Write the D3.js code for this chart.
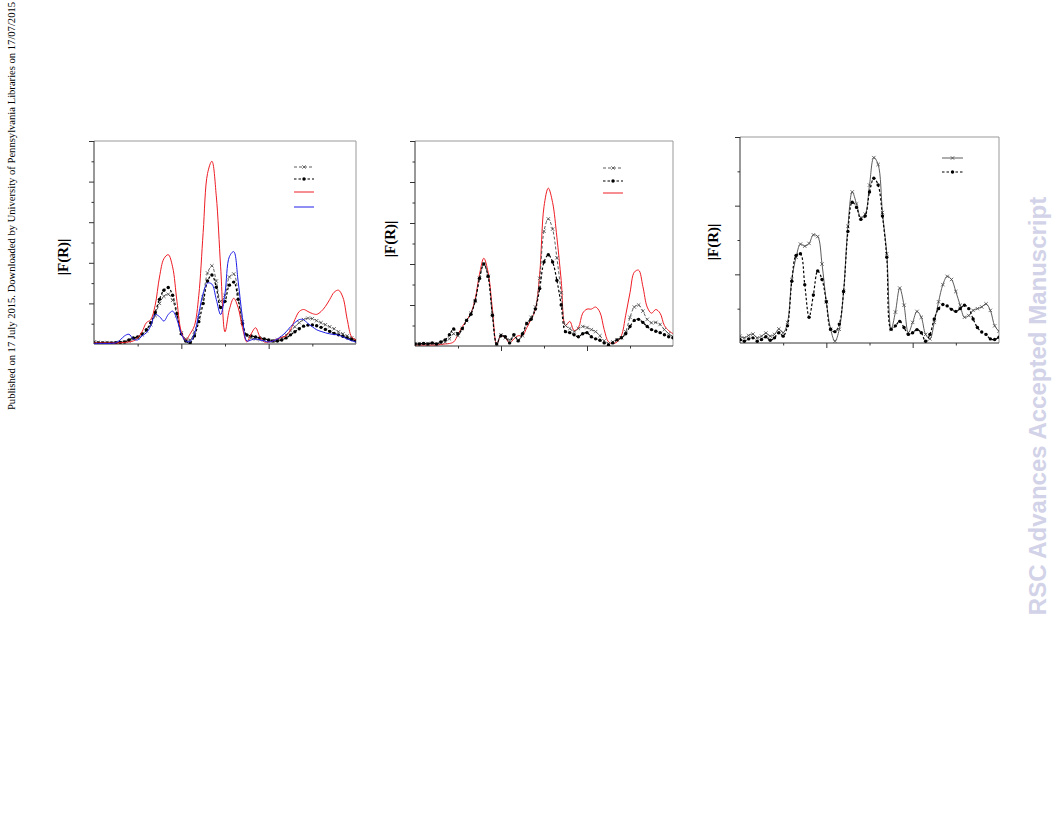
<!DOCTYPE html>
<html><head><meta charset="utf-8">
<script src="https://cdn.jsdelivr.net/npm/d3@7"></script>
<style>body{margin:0;background:#fff}svg{display:block}</style>
</head><body>
<svg id="c" width="1056" height="816"></svg>
<script>
// ---- DATA ----
const rGrid = [0,0.1,0.2,0.3,0.4,0.5,0.6,0.7,0.8,0.9,
  1,1.1,1.2,1.3,1.4,1.5,1.6,1.7,1.8,1.9,
  2,2.1,2.2,2.3,2.4,2.5,2.6,2.7,2.8,2.9,
  3,3.1,3.2,3.3,3.4,3.5,3.6,3.7,3.8,3.9,
  4,4.1,4.2,4.3,4.4,4.5,4.6,4.7,4.8,4.9,
  5,5.1,5.2,5.3,5.4,5.5,5.6,5.7,5.8,5.9,6];

const xTickMajor = [2,4];
const xTickMinor = [1,3,5];

// Panel 1
const p1Cross = [0.1,0.08,0.07,0.06,0.05,0.05,0.07,0.1,0.15,0.25,
  0.3,0.45,0.65,0.95,1.4,2.0,2.35,2.45,2.15,1.4,
  0.55,0.25,0.2,0.6,1.3,2.3,3.5,3.85,3.1,2.1,
  2.4,3.3,3.45,2.5,1.1,0.4,0.3,0.25,0.22,0.2,
  0.15,0.15,0.2,0.3,0.45,0.65,0.85,1.05,1.2,1.27,
  1.25,1.15,1.05,0.95,0.85,0.75,0.6,0.5,0.4,0.3,0.2];
const p1Dot = [0.05,0.05,0.05,0.05,0.05,0.06,0.08,0.1,0.2,0.3,
  0.35,0.5,0.7,1.05,1.55,2.2,2.65,2.78,2.4,1.5,
  0.5,0.15,0.05,0.4,1.1,2.0,3.1,3.4,2.8,1.8,
  2.1,2.9,3.05,2.2,1.0,0.45,0.4,0.35,0.3,0.25,
  0.2,0.15,0.15,0.2,0.3,0.45,0.6,0.75,0.88,0.93,
  0.94,0.9,0.82,0.72,0.62,0.52,0.45,0.38,0.3,0.22,0.15];
const p1Red = [0.05,0.05,0.05,0.05,0.05,0.05,0.06,0.08,0.1,0.15,
  0.3,0.6,1.05,1.2,1.9,3.3,4.2,4.4,3.8,2.1,
  0.6,0.2,0.5,0.9,2.4,5.5,8.4,9.0,7.3,3.8,
  0.6,1.7,2.25,1.8,0.8,0.1,0.5,0.8,0.35,0.1,
  0.1,0.15,0.25,0.33,0.4,0.7,1.2,1.6,1.7,1.6,
  1.5,1.46,1.6,1.85,2.2,2.55,2.65,2.3,1.2,0.35,0.2];
const p1Blue = [0.02,0.02,0.02,0.02,0.03,0.06,0.2,0.4,0.48,0.25,
  0.2,0.4,0.55,0.9,1.45,1.35,1.13,1.45,1.62,1.2,
  0.5,0.15,0.12,0.5,1.5,2.5,3.0,2.95,2.2,1.45,
  2.5,4.3,4.55,3.1,1.3,0.15,0.2,0.25,0.2,0.15,
  0.1,0.15,0.25,0.4,0.6,0.85,1.05,1.2,1.2,1.0,
  0.85,0.7,0.62,0.55,0.5,0.47,0.44,0.35,0.25,0.16,0.1];

// Panel 2
const p2Cross = [0.1,0.1,0.12,0.1,0.12,0.1,0.15,0.2,0.35,0.6,
  0.5,0.85,1.25,1.6,2.2,3.3,4.0,3.4,1.5,0.1,
  0.55,0.4,0.3,0.5,0.3,0.5,1.1,1.4,1.9,3.3,
  5.6,6.2,5.7,4.3,2.6,1.0,0.85,0.7,0.85,0.95,
  0.9,0.8,0.7,0.5,0.25,0.12,0.2,0.3,0.4,0.7,
  1.4,1.9,2.0,1.7,1.3,1.13,1.15,1.05,0.8,0.6,0.45];
const p2Dot = [0.1,0.1,0.12,0.1,0.15,0.1,0.2,0.3,0.55,0.83,
  0.6,0.85,1.25,1.55,2.2,3.3,4.0,3.4,1.5,0.1,
  0.5,0.45,0.15,0.55,0.25,0.6,1.1,1.3,1.8,2.8,
  4.1,4.45,4.1,3.2,2.0,0.7,0.65,0.55,0.45,0.6,
  0.65,0.45,0.35,0.28,0.15,0.05,0.15,0.3,0.4,0.6,
  0.95,1.25,1.3,1.15,0.95,0.8,0.72,0.65,0.55,0.45,0.4];
const p2Red = [0.05,0.05,0.05,0.05,0.05,0.05,0.08,0.1,0.12,0.2,
  0.55,0.95,1.25,1.6,2.3,3.5,4.28,3.6,1.8,0.1,
  0.5,0.4,0.15,0.35,0.5,0.5,0.9,1.3,1.8,3.5,
  6.8,7.7,7.0,5.3,3.2,1.0,1.2,0.75,0.9,1.6,
  1.8,1.8,1.9,1.65,0.8,0.2,0.12,0.2,0.5,1.5,
  2.6,3.6,3.7,2.9,1.9,1.6,1.78,1.6,1.0,0.75,0.6];

// Panel 3
const p3Cross = [0.2,0.15,0.22,0.26,0.15,0.2,0.29,0.2,0.25,0.41,
  0.3,0.6,1.85,2.5,2.88,2.82,2.9,3.15,3.1,2.3,
  1.2,0.4,0.05,0.4,1.5,3.4,4.4,4.05,3.65,3.75,
  4.6,5.4,5.2,3.8,2.6,0.4,0.9,1.6,1.1,0.3,
  0.6,0.92,0.75,0.25,0.12,0.6,1.2,1.7,1.94,1.85,
  1.5,1.1,0.75,0.8,0.95,1.0,1.05,1.14,0.95,0.5,0.34];
const p3Dot = [0.1,0.05,0.12,0.15,0.05,0.1,0.18,0.08,0.15,0.3,
  0.2,0.5,1.8,2.55,2.6,1.7,0.75,1.4,2.1,1.85,
  1.2,0.4,0.33,0.55,1.5,3.25,4.1,3.95,3.6,3.7,
  4.4,4.8,4.6,3.7,2.5,0.4,0.5,0.63,0.45,0.25,
  0.3,0.39,0.3,0.05,0.25,0.7,1.0,1.12,1.08,0.98,
  0.92,1.0,1.1,1.0,0.7,0.45,0.32,0.25,0.12,0.1,0.17];

const yLabel = "|F(R)|";
const sideNote = "Published on 17 July 2015. Downloaded by University of Pennsylvania Libraries on 17/07/2015";
const watermark = "RSC Advances Accepted Manuscript";

// ---- STYLES / LAYOUT ----
const styles = {
  cross: {stroke:"#4a4a4a", width:0.9, dash:"3,2", marker:"x"},
  crossSolid: {stroke:"#4a4a4a", width:0.9, dash:null, marker:"x"},
  dot: {stroke:"#000", width:1.2, dash:"2.5,2", marker:"dot"},
  red: {stroke:"#ee1c24", width:1, dash:null, marker:null},
  blue: {stroke:"#1c1ce6", width:1, dash:null, marker:null}
};

const panels = [
  {box:[94,141,356,344], yMax:10, yMajor:[2,4,6,8,10], yMinor:[1,3,5,7,9],
   series:[[p1Cross,"cross"],[p1Dot,"dot"],[p1Red,"red"],[p1Blue,"blue"]],
   legend:{x0:294,x1:314,ys:[167,179,192,207]}, label:[63,257]},
  {box:[415,141,673,346], yMax:10, yMajor:[2,4,6,8,10], yMinor:[1,3,5,7,9],
   series:[[p2Red,"red"],[p2Cross,"cross"],[p2Dot,"dot"]],
   legend:{x0:603,x1:623,ys:[193,168,181]}, label:[390,239]},
  {box:[740,137,999,343], yMax:6, yMajor:[2,4,6], yMinor:[1,3,5],
   series:[[p3Cross,"crossSolid"],[p3Dot,"dot"]],
   legend:{x0:942,x1:963,ys:[158,172]}, label:[713,242]}
];

const svg = d3.select("#c");

function drawMarker(g, type, x, y, st) {
  if (type === "x") {
    const s = 1.7;
    g.append("path").attr("d", `M${x-s},${y-s}L${x+s},${y+s}M${x-s},${y+s}L${x+s},${y-s}`)
      .attr("stroke", st.stroke).attr("stroke-width", 0.8).attr("fill","none");
  } else if (type === "dot") {
    g.append("circle").attr("cx", x).attr("cy", y).attr("r", 1.7).attr("fill", "#000");
  }
}

panels.forEach((p, pi) => {
  const [l,t,r,b] = p.box;
  const x = d3.scaleLinear().domain([0,6]).range([l,r]);
  const y = d3.scaleLinear().domain([0,p.yMax]).range([b,t]);
  const g = svg.append("g");

  g.append("line").attr("x1",l).attr("x2",r).attr("y1",t).attr("y2",t).attr("stroke","#999").attr("stroke-width",1);
  g.append("line").attr("x1",r).attr("x2",r).attr("y1",t).attr("y2",b).attr("stroke","#999").attr("stroke-width",1);

  const axL = g.append("g").attr("transform",`translate(${l},0)`)
    .call(d3.axisLeft(y).tickValues(p.yMajor).tickSize(5).tickFormat(""));
  const axLm = g.append("g").attr("transform",`translate(${l},0)`)
    .call(d3.axisLeft(y).tickValues(p.yMinor).tickSize(2.5).tickFormat(""));
  const axB = g.append("g").attr("transform",`translate(0,${b})`)
    .call(d3.axisBottom(x).tickValues(xTickMajor).tickSize(5).tickFormat(""));
  const axBm = g.append("g").attr("transform",`translate(0,${b})`)
    .call(d3.axisBottom(x).tickValues(xTickMinor).tickSize(2.5).tickFormat(""));
  [axLm, axBm].forEach(a => a.select(".domain").remove());
  [axL, axB].forEach(a => a.select(".domain").attr("stroke","#333").attr("d", a === axL ? `M0,${t}V${b}` : `M${l},0H${r}`));
  g.selectAll(".tick line").attr("stroke","#333");

  const cid = "clip"+pi;
  svg.append("clipPath").attr("id",cid).append("rect").attr("x",l).attr("y",t).attr("width",r-l).attr("height",b-t);
  const plot = g.append("g").attr("clip-path",`url(#${cid})`);

  p.series.forEach(([vals, sk]) => {
    const st = styles[sk];
    const pts = vals.map((v,i) => [rGrid[i], v]);
    const line = d3.line().x(d => x(d[0])).y(d => y(d[1])).curve(d3.curveCatmullRom.alpha(0.5));
    plot.append("path").attr("d", line(pts)).attr("fill","none")
      .attr("stroke", st.stroke).attr("stroke-width", st.width)
      .attr("stroke-dasharray", st.dash);
    if (st.marker) {
      const mg = plot.append("g");
      pts.forEach(d => drawMarker(mg, st.marker, x(d[0]), y(d[1]), st));
    }
  });

  p.series.forEach(([vals, sk], i) => {
    const st = styles[sk];
    const ly = p.legend.ys[i];
    g.append("line").attr("x1",p.legend.x0).attr("x2",p.legend.x1).attr("y1",ly).attr("y2",ly)
      .attr("stroke",st.stroke).attr("stroke-width",st.width).attr("stroke-dasharray",st.dash);
    if (st.marker) drawMarker(g, st.marker, (p.legend.x0+p.legend.x1)/2, ly, st);
  });

  g.append("text").attr("transform",`translate(${p.label[0]},${p.label[1]}) rotate(-90)`)
    .attr("text-anchor","middle").attr("dominant-baseline","central")
    .attr("font-family","'Liberation Serif','Times New Roman',serif").attr("font-weight","bold")
    .attr("font-size",15).attr("fill","#000").text(yLabel);
});

svg.append("text").attr("transform","translate(15,206) rotate(-90)")
  .attr("text-anchor","middle").attr("font-family","'Liberation Serif','Times New Roman',serif")
  .attr("font-size",10.6).attr("fill","#000").text(sideNote);

svg.append("text").attr("transform","translate(1046,406) rotate(-90)")
  .attr("text-anchor","middle").attr("font-family","'Liberation Sans',Arial,sans-serif")
  .attr("font-weight","bold").attr("font-size",24).attr("fill","#d2d2e8").text(watermark);
</script>
</body></html>
